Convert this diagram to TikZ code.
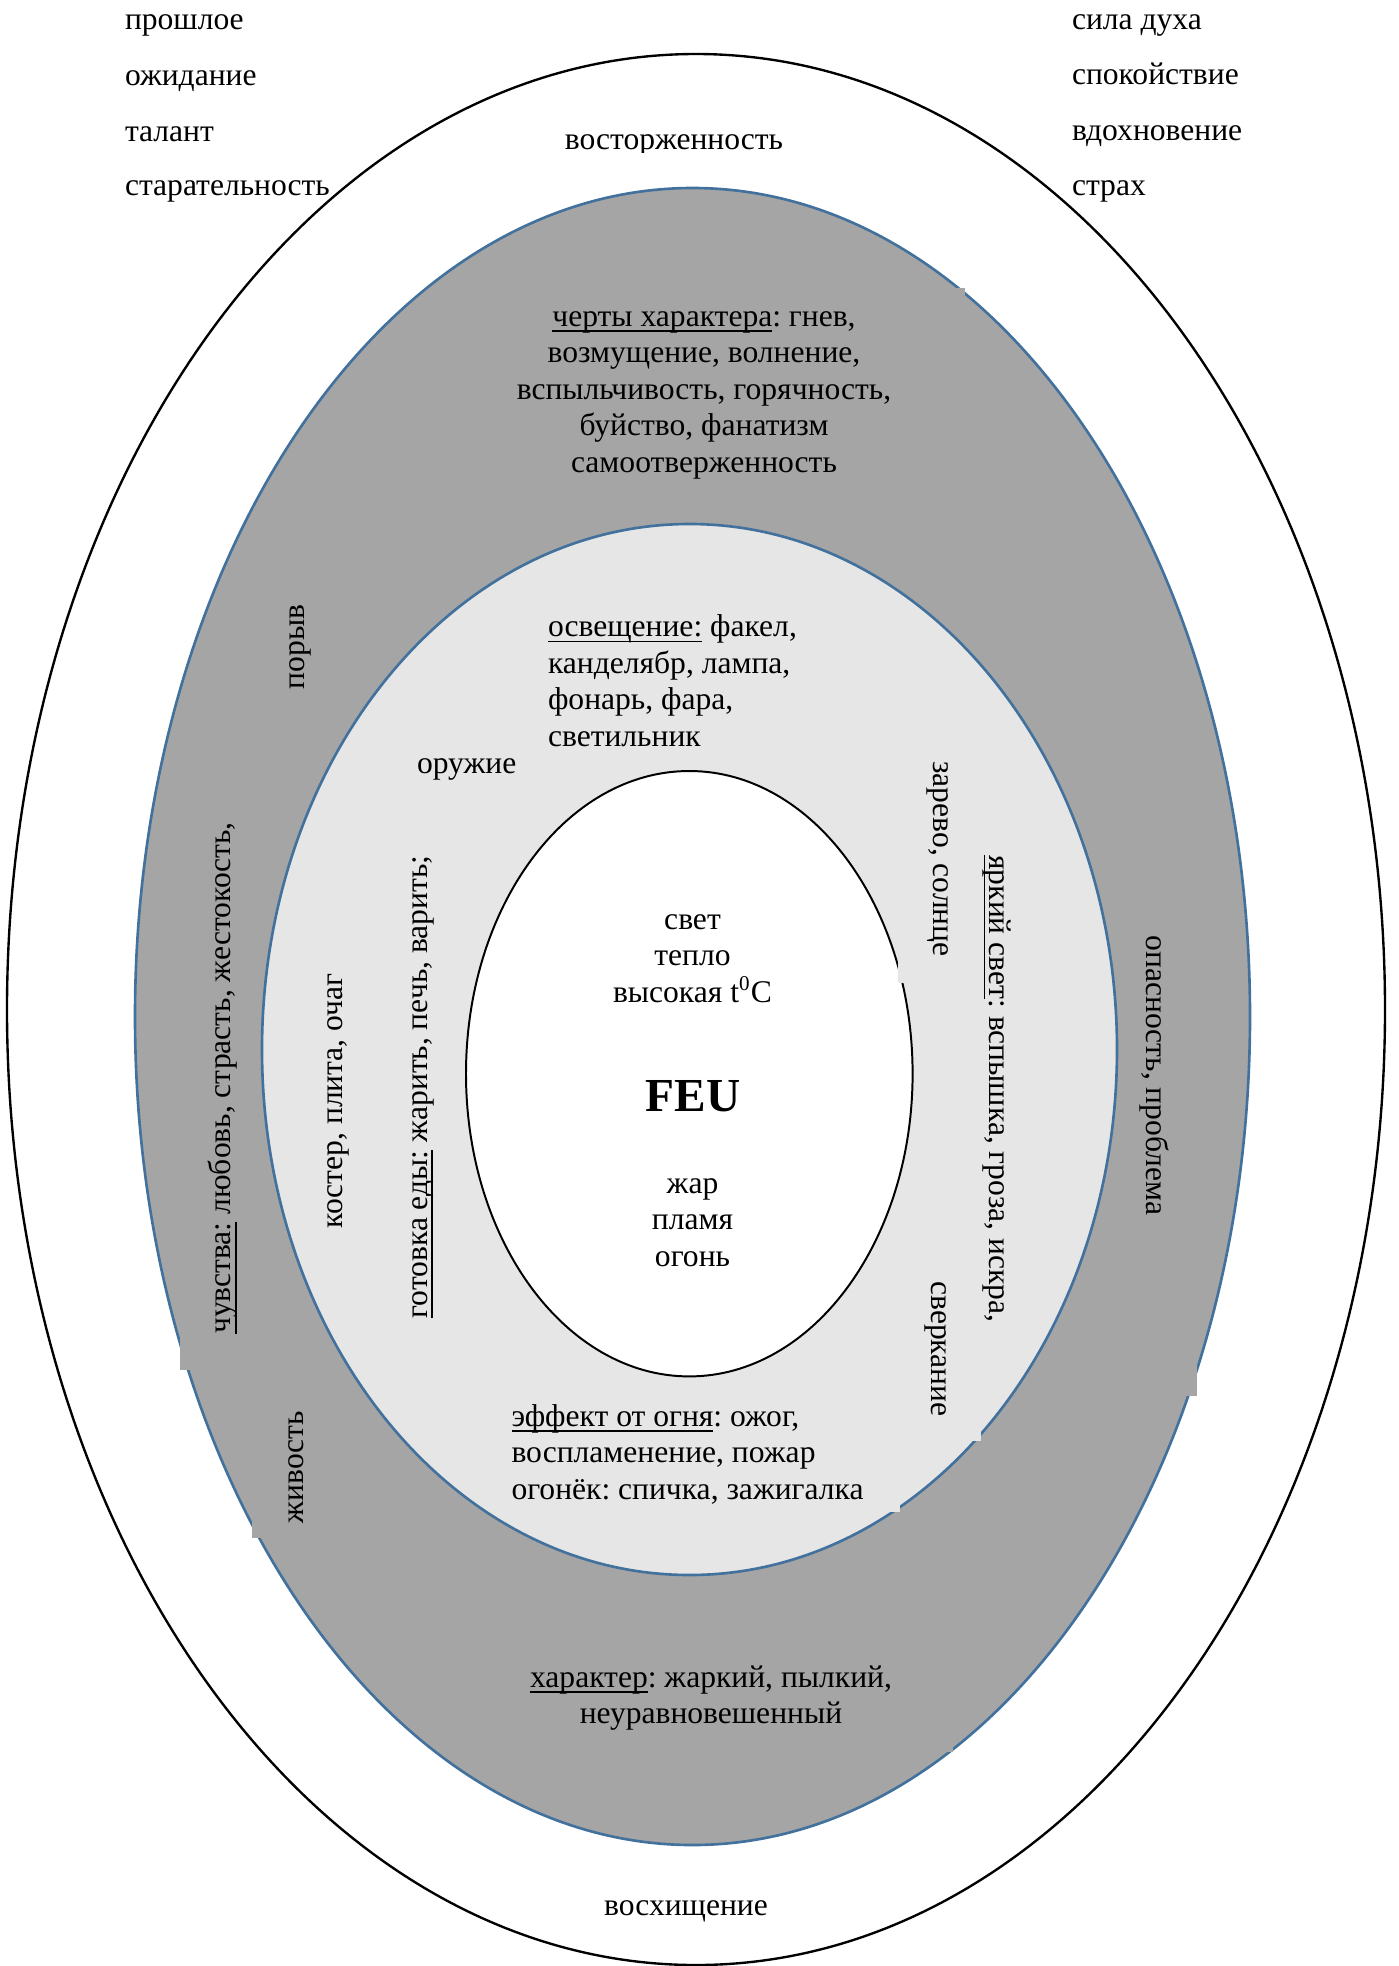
\documentclass[tikz,border=0pt]{standalone}
\usepackage{fontspec}
\setmainfont{Liberation Serif}
\frenchspacing
\definecolor{ringdark}{HTML}{A5A5A5}
\definecolor{ringlight}{HTML}{E6E6E6}
\definecolor{rimblue}{HTML}{41719C}
% underline at a fixed depth, crossing the descenders
\newsavebox\undlbox
\newcommand{\undl}[1]{\sbox\undlbox{#1}\rlap{\rule[-2.15pt]{\wd\undlbox}{0.55pt}}\usebox\undlbox}
\begin{document}
\begin{tikzpicture}[x=0.38pt,y=-0.38pt,
  txt/.style={font=\fontsize{12}{13.9}\selectfont, inner sep=0pt, outer sep=0pt},
  para/.style={txt, align=#1},
  blackrim/.style={draw=black, line width=0.9pt, fill=white},
  bluerim/.style={draw=rimblue, line width=1pt}]
\useasboundingbox (0,0) rectangle (1399,1966);
\fill[white] (0,0) rectangle (1399,1966);

% rings, from the outside in
\path[blackrim] (696,1009.5) ellipse [x radius=689, y radius=955.5];
\path[bluerim, fill=ringdark] (692.5,1016.5) ellipse [x radius=557.5, y radius=828.5];
% corners of the filled text boxes that stick out of the dark ring
\fill[ringdark] (180,1250) rectangle (205,1370);
\fill[ringdark] (252,1450) rectangle (280,1538);
\fill[ringdark] (1170,1300) rectangle (1197,1396);
\fill[ringdark] (930,288) rectangle (965,330);
\fill[ringdark] (920,1700) rectangle (953,1752);
\path[bluerim, fill=ringlight] (689.5,1049.5) ellipse [x radius=427.5, y radius=525.5];
% corners of the filled text boxes that stick out of the light ring
\fill[ringlight] (950,1380) rectangle (981,1441);
\fill[ringlight] (860,1470) rectangle (900,1512);
\path[blackrim, line width=0.75pt] (689.3,1073.7) ellipse [x radius=223.3, y radius=302.7];
% corner of the light box that cuts into the core outline
\fill[ringlight] (897.7,930) rectangle (930,983);

% corner lists
\node[txt, anchor=base west] (past) at (125,29.5) {прошлое};
\node[txt, anchor=base west] (expect) at (125,85.5) {ожидание};
\node[txt, anchor=base west] (talent) at (125,141.5) {талант};
\node[txt, anchor=base west] (zeal) at (125,195.5) {старательность};
\node[txt, anchor=base west] (spirit) at (1072,29.5) {сила духа};
\node[txt, anchor=base west] (calm) at (1072,84.5) {спокойствие};
\node[txt, anchor=base west] (inspire) at (1072,140.5) {вдохновение};
\node[txt, anchor=base west] (fear) at (1072,195.5) {страх};

% outer ring
\begin{scope}
  \clip (450,100) rectangle (900,152);
  \node[txt, anchor=base] (rapture) at (674,149.5) {восторженность};
\end{scope}
\node[txt, anchor=base] (admiration) at (686,1915) {восхищение};

% dark ring
\node[para=center, anchor=north] (traits) at (704,300.6)
  {\strut\undl{черты характера}: гнев,\\ возмущение, волнение,\\ вспыльчивость, горячность,\\ буйство, фанатизм\\ самоотверженность};
\node[txt, rotate=90] (impulse) at (300,647) {порыв};
\node[txt, rotate=90] (feelings) at (223,1078) {\undl{чувства:} любовь, страсть, жестокость,};
\node[txt, rotate=90] (liveliness) at (296,1467) {живость};
\node[txt, rotate=-90] (danger) at (1154,1075.5) {опасность, проблема};
\node[para=center, anchor=north] (temper) at (711,1661.6)
  {\strut\undl{характер}: жаркий, пылкий,\\ неуравновешенный};

% light ring
\node[para=left, anchor=north west] (lighting) at (548,611)
  {\strut\undl{освещение:} факел,\\ канделябр, лампа,\\ фонарь, фара,\\ светильник};
\node[txt, anchor=base west] (weapon) at (417,773) {оружие};
\node[txt, rotate=90] (hearth) at (338,1101) {костер, плита, очаг};
\node[txt, rotate=90] (cooking) at (423,1087) {\undl{готовка еды:} жарить, печь, варить;};
\node[txt, rotate=-90] (glow) at (938,859) {зарево, солнце};
\node[txt, rotate=-90] (bright) at (997,1089) {\undl{яркий свет}: вспышка, гроза, искра,};
\node[txt, rotate=-90] (sparkle) at (936,1349) {сверкание};
\node[para=left, anchor=north west] (effect) at (511.5,1400.6)
  {\strut\undl{эффект от огня}: ожог,\\ воспламенение, пожар\\ огонёк: спичка, зажигалка};

% core
\node[para=center, anchor=north] (senses) at (692.5,903.5)
  {\strut свет\\ тепло\\ высокая t\textsuperscript{0}C};
\node[font=\fontsize{18}{20}\selectfont\bfseries, inner sep=0pt, anchor=base] (feu) at (693,1111) {FEU};
\node[para=center, anchor=north] (flames) at (692.5,1167.6)
  {\strut жар\\ пламя\\ огонь};
\end{tikzpicture}
\end{document}
